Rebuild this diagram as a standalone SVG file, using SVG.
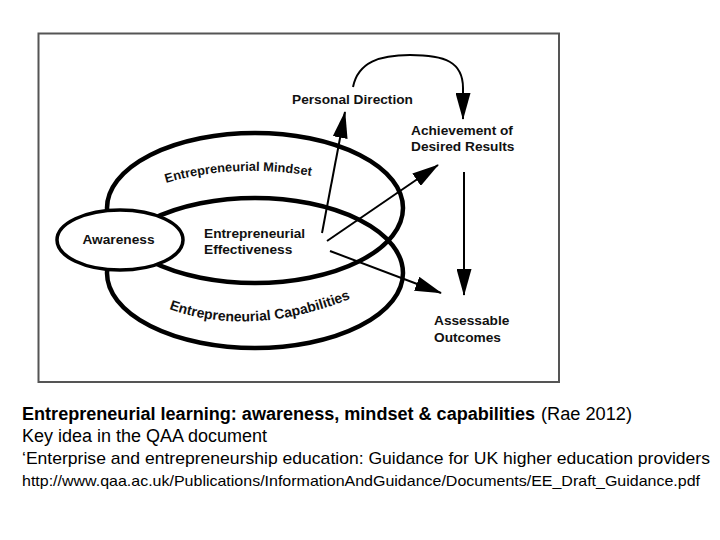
<svg xmlns="http://www.w3.org/2000/svg" width="720" height="540" viewBox="0 0 720 540">
  <defs>
    <style>
      .lbl { font-family: "Liberation Sans", Arial, sans-serif; font-weight: bold; font-size: 13.7px; fill: #111; }
      .curv { font-family: "Liberation Sans", Arial, sans-serif; font-weight: bold; fill: #111; }
      .ring { fill: none; stroke: #000; stroke-width: 4.5; }
      .conn { fill: none; stroke: #000; stroke-width: 2; }
      .cap { font-family: "Liberation Sans", Arial, sans-serif; fill: #000; }
    </style>
    <marker id="ah" markerUnits="userSpaceOnUse" markerWidth="27" markerHeight="15" refX="26" refY="7.5" orient="auto">
      <path d="M0,0 L27,7.5 L0,15 z" fill="#000"/>
    </marker>
    <path id="p-mindset" d="M166,183 Q232,163 312,176"/>
    <path id="p-capab" d="M169,309 Q255,340 362,294"/>
  </defs>

  <rect x="0" y="0" width="720" height="540" fill="#fff"/>
  <rect id="frame" x="38.5" y="33.5" width="520.5" height="348.5" fill="none" stroke="#555" stroke-width="2"/>

  <g id="node-mindset">
    <ellipse class="ring" cx="255" cy="208" rx="148" ry="75"/>
    <text class="curv" font-size="12.8"><textPath href="#p-mindset">Entrepreneurial Mindset</textPath></text>
  </g>
  <g id="node-capabilities">
    <ellipse class="ring" cx="255" cy="273" rx="148" ry="75"/>
    <text class="curv" font-size="14"><textPath href="#p-capab">Entrepreneurial Capabilities</textPath></text>
  </g>
  <g id="node-awareness">
    <ellipse cx="120" cy="240" rx="63" ry="30" fill="#fff" stroke="#000" stroke-width="3.5"/>
    <text class="lbl" x="118.5" y="244" text-anchor="middle">Awareness</text>
  </g>
  <g id="node-effectiveness">
    <text class="lbl" x="204" y="238">Entrepreneurial</text>
    <text class="lbl" x="204" y="254">Effectiveness</text>
  </g>
  <g id="node-personal-direction">
    <text class="lbl" x="292" y="104">Personal Direction</text>
  </g>
  <g id="node-achievement">
    <text class="lbl" x="411" y="135">Achievement of</text>
    <text class="lbl" x="411" y="151">Desired Results</text>
  </g>
  <g id="node-assessable">
    <text class="lbl" x="434" y="325">Assessable</text>
    <text class="lbl" x="434" y="342">Outcomes</text>
  </g>

  <g id="connectors">
    <path class="conn" d="M353,87 C358,62 380,55 410,55 C445,55 463,62 463,88 L463,119" marker-end="url(#ah)"/>
    <line class="conn" x1="322" y1="233" x2="345" y2="112" marker-end="url(#ah)"/>
    <line class="conn" x1="327" y1="241" x2="438" y2="165" marker-end="url(#ah)"/>
    <line class="conn" x1="330" y1="251" x2="441" y2="293" marker-end="url(#ah)"/>
    <line class="conn" x1="464" y1="172" x2="464" y2="295" marker-end="url(#ah)"/>
  </g>

  <g id="caption">
    <text class="cap" x="22" y="420" font-size="18" font-weight="bold" textLength="513" lengthAdjust="spacingAndGlyphs">Entrepreneurial learning: awareness, mindset &amp; capabilities</text>
    <text class="cap" x="541" y="420" font-size="18" textLength="91" lengthAdjust="spacingAndGlyphs">(Rae 2012)</text>
    <text class="cap" x="22" y="442" font-size="18" textLength="245" lengthAdjust="spacingAndGlyphs">Key idea in the QAA document</text>
    <text class="cap" x="22" y="464" font-size="17" textLength="688" lengthAdjust="spacingAndGlyphs">‘Enterprise and entrepreneurship education: Guidance for UK higher education providers</text>
    <text class="cap" x="22" y="486" font-size="14.5" textLength="678" lengthAdjust="spacingAndGlyphs" fill="#222">http://www.qaa.ac.uk/Publications/InformationAndGuidance/Documents/EE_Draft_Guidance.pdf</text>
  </g>
</svg>
